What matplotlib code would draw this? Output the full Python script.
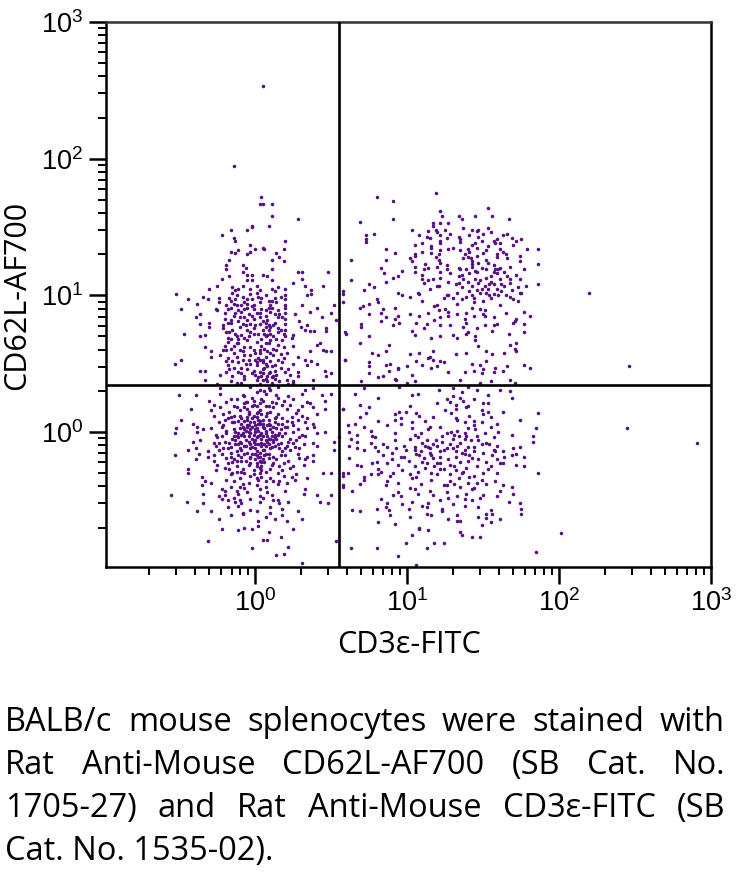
import numpy as np
import matplotlib
matplotlib.use('Agg')
import matplotlib.pyplot as plt
from matplotlib.ticker import LogLocator, LogFormatterMathtext, NullFormatter

plt.rcParams['font.family'] = ['Liberation Sans', 'DejaVu Sans']
plt.rcParams['mathtext.default'] = 'regular'

# log10 (CD3e, CD62L) per gate
upper_left = [
    (.05,2.53),(-.14,1.95),(.04,1.72),(.03,1.67),(.05,1.67),(.11,1.67),(.11,1.58),(.28,1.56),(.09,1.51),(-.02,1.51),(-.02,1.50),
    (-.05,1.48),(-.16,1.48),(-.22,1.44),(-.14,1.42),(-.13,1.40),(.20,1.40),(-.03,1.37),(.05,1.35),(.06,1.34),(.0,1.34),(-.03,1.32),
    (-.05,1.30),(-.16,1.32),(-.13,1.31),(-.11,1.33),(.19,1.34),(.14,1.31),(.16,1.28),(.19,1.25),(.11,1.26),(-.17,1.26),(-.19,1.22),
    (-.19,1.19),(-.17,1.14),(-.08,1.22),(-.06,1.20),(-.08,1.17),(-.05,1.15),(-.02,1.15),(-.05,1.11),(-.02,1.11),(.05,1.15),(.08,1.14),
    (.11,1.19),(.11,1.11),(.28,1.17),(.31,1.17),(.31,1.12),(.48,1.17),(-.22,1.12),(.25,1.09),(.33,1.07),(.45,1.07),(-.25,1.07),(-.30,1.05),
    (-.15,1.06),(-.13,1.04),(-.11,1.05),(-.08,1.07),(-.03,1.05),(.01,1.07),(.03,1.04),(.11,1.05),(.15,1.06),(.20,1.05),(.37,1.04),
    (-.52,1.01),(-.15,1.02),(-.12,1.00),(-.03,1.01),(.01,1.02),(.07,1.00),(.13,1.03),(.20,1.00),(.34,1.00),(.37,1.01),
    (-.44,.97),(-.34,.99),(-.31,.97),(-.24,.98),(-.16,.96),(-.05,.97),(.04,.98),(.09,.96),(.13,.98),(.20,.97),
    (-.38,.94),(-.24,.95),(-.19,.93),(-.14,.94),(-.09,.93),(-.05,.94),(-.01,.93),(.03,.95),(.10,.93),(.14,.95),(.20,.93),(.58,.95),(.52,.93),
    (-.49,.90),(-.26,.90),(-.25,.89),(-.16,.91),(-.11,.89),(-.05,.91),(-.01,.90),(.07,.89),(.11,.91),(.15,.89),(.20,.91),(.31,.93),(.41,.91),
    (-.36,.86),(-.20,.87),(-.14,.85),(-.09,.88),(-.04,.86),(.01,.87),(.07,.85),(.10,.88),(.16,.86),(.20,.87),(.26,.86),(.36,.88),(.50,.87),
    (-.39,.84),(-.20,.83),(-.16,.82),(-.10,.84),(-.05,.82),(-.01,.83),(.03,.84),(.08,.82),(.15,.84),(.20,.83),(.44,.84),(.53,.82),
    (-.36,.79),(-.30,.80),(-.21,.78),(-.16,.80),(-.11,.81),(-.03,.79),(.07,.80),(.09,.78),(.13,.80),(.20,.79),(.29,.81),(.34,.78),
    (-.30,.77),(-.21,.76),(-.15,.75),(-.10,.77),(-.05,.75),(-.01,.76),(.07,.77),(.09,.75),(.15,.76),(.20,.75),(.30,.77),(.33,.75),(.47,.76),
    (-.47,.72),(-.33,.71),(-.19,.73),(-.13,.72),(-.09,.71),(-.03,.73),(.02,.72),(.08,.71),(.15,.73),(.19,.72),(.25,.71),(.36,.74),(.39,.74),(.47,.74),(.60,.72),
    (-.36,.70),(-.18,.69),(-.12,.70),(-.07,.69),(.07,.70),(.14,.68),(.20,.70),(.24,.69),
    (-.18,.66),(-.11,.65),(-.05,.67),(.01,.66),(.09,.65),(.18,.67),(.43,.65),
    (-.33,.62),(-.20,.63),(-.16,.61),(-.03,.62),(.04,.63),(.12,.61),(.19,.62),(.25,.63),(.41,.64),
    (-.29,.59),(-.19,.60),(-.14,.58),(-.08,.59),(-.01,.60),(.03,.58),(.08,.59),(.14,.60),(.21,.58),(.45,.60),(.47,.59),(.50,.59),(.36,.59),
    (-.29,.55),(-.23,.56),(-.18,.54),(-.12,.55),(-.03,.56),(.02,.54),(.07,.55),(.12,.56),(.19,.54),(.28,.55),
    (-.49,.53),(-.19,.52),(-.08,.53),(.01,.51),(.05,.53),(.10,.52),(.15,.53),(.33,.53),(.37,.52),(.59,.53),
    (-.53,.50),(-.18,.49),(-.11,.51),(-.03,.50),(.01,.49),(.07,.50),(.13,.49),(.18,.51),(.25,.50),(.34,.49),(.41,.50),
    (-.36,.45),(-.33,.45),(-.17,.46),(-.11,.44),(-.01,.45),(.05,.46),(.10,.44),(.13,.45),(.22,.46),(.28,.44),(.46,.45),(.50,.43),
    (-.23,.42),(-.15,.41),(-.09,.43),(.0,.42),(.04,.41),(.09,.43),(.12,.41),(.23,.42),(.28,.41),(.47,.41),
    (-.33,.38),(-.16,.37),(-.07,.39),(.01,.38),(.08,.37),(.13,.39),(.21,.38),(.25,.37),(.38,.38),
    (-.25,.35),(-.12,.36),(-.03,.34),(.03,.35),(.11,.36),(.22,.35),(.25,.36),
    # tight clumps in the middle of the population
    (-.12,.93),(-.07,.95),(-.02,.92),(.04,.90),(.09,.91),(-.07,.84),(-.02,.85),(.03,.79),(.06,.72),(.05,.75),
    (-.06,.78),(-.01,.72),(.10,.77),(.10,.72),(.12,.70),(.07,.65),(.06,.61),(.03,.60),(.0,.58),(.03,.53),
    (.0,.53),(.05,.51),(.08,.48),(.06,.47),(.03,.44),(.05,.43),(.08,.41),(.11,.40),(.14,.42),(.07,.39),
    (.02,.40),(.05,.38),(-.02,.43),(-.05,.46),(-.09,.47),(-.04,.53),(-.07,.56),(-.10,.60),(-.12,.65),(-.16,.68),
    (-.17,.98),(-.13,.97),(-.08,.99),(-.02,.97),(.02,.99),(.11,.96),(.17,.99),(-.18,.90),(-.13,.87),(-.07,.90),
    (.03,.87),(.13,.86),(.18,.84),(-.18,.80),(-.08,.79),(.0,.78),(.05,.81),(.12,.78),(.17,.75),(-.17,.73),
    (-.11,.68),(-.04,.70),(.04,.68),(.10,.67),(.15,.64),(-.21,.60),(-.14,.63),(-.07,.62),(.10,.58),(.17,.57),
    (-.15,.52),(-.06,.50),(.11,.48),(.17,.47),(.20,.44),(-.14,.47),(-.19,.44),(-.07,.41),(.16,.37),(-.09,.36),
]

lower_left = [
    (-.23,.32),(-.03,.33),(.03,.31),(.09,.32),(.15,.33),(.33,.31),(.38,.32),
    (-.50,.27),(-.39,.27),(-.23,.28),(-.07,.26),(.07,.28),(.14,.27),(.22,.26),(.31,.28),(.44,.27),(.50,.28),
    (-.30,.23),(-.16,.24),(-.05,.22),(-.01,.23),(.04,.24),(.11,.22),(.19,.23),(.25,.24),(.34,.22),(.46,.23),
    (-.27,.20),(-.14,.19),(-.07,.21),(-.01,.20),(.07,.19),(.14,.21),(.23,.20),(.31,.19),(.36,.21),
    (-.42,.17),(-.29,.16),(-.12,.18),(-.05,.17),(.03,.16),(.12,.18),(.21,.17),(.28,.16),(.38,.18),(.46,.17),(.58,.17),
    (-.27,.12),(-.21,.13),(-.16,.11),(-.10,.12),(-.04,.13),(.01,.11),(.07,.12),(.15,.13),(.24,.11),(.31,.12),(.41,.13),
    (-.49,.09),(-.18,.10),(-.11,.08),(-.05,.09),(-.02,.10),(.03,.08),(.09,.09),(.13,.10),(.21,.08),(.28,.09),(.34,.10),
    (-.41,.06),(-.21,.05),(-.15,.07),(-.09,.06),(-.04,.05),(-.01,.07),(.02,.06),(.08,.05),(.13,.07),(.18,.06),(.25,.05),(.33,.07),(.38,.06),
    (-.52,.03),(-.38,.04),(-.34,.02),(-.29,.03),(-.22,.04),(-.14,.02),(-.10,.03),(-.05,.04),(-.03,.02),(.01,.03),(.05,.04),(.10,.02),(.14,.03),(.21,.04),(.28,.02),(.34,.03),(.39,.04),
    (-.53,-.01),(-.38,.0),(-.26,-.02),(-.19,-.01),(-.13,.0),(-.09,-.02),(-.03,-.01),(.0,.0),(.03,-.02),(.07,-.01),(.11,.0),(.15,-.02),(.20,-.01),(.25,.0),(.31,-.02),(.41,-.01),(.46,.0),
    (-.25,-.04),(-.22,-.03),(-.15,-.05),(-.11,-.04),(-.07,-.03),(-.02,-.05),(.01,-.04),(.05,-.03),(.09,-.05),(.13,-.04),(.18,-.03),(.23,-.05),(.29,-.04),(.33,-.03),(.55,-.04),
    (-.41,-.07),(-.36,-.06),(-.27,-.08),(-.20,-.07),(-.13,-.06),(-.09,-.08),(-.04,-.07),(.0,-.06),(.04,-.08),(.08,-.07),(.12,-.06),(.17,-.08),(.22,-.07),(.27,-.06),(.38,-.08),(.52,-.07),
    (-.26,-.10),(-.16,-.11),(-.11,-.09),(-.07,-.10),(-.02,-.11),(.02,-.09),(.07,-.10),(.11,-.11),(.15,-.09),(.21,-.10),(.26,-.11),(.32,-.09),(.41,-.10),
    (-.44,-.13),(-.39,-.12),(-.31,-.14),(-.24,-.13),(-.18,-.12),(-.12,-.14),(-.09,-.13),(-.03,-.12),(.01,-.14),(.05,-.13),(.10,-.12),(.18,-.14),(.23,-.13),(.29,-.12),(.52,-.13),
    (-.53,-.17),(-.37,-.16),(-.31,-.18),(-.27,-.17),(-.22,-.16),(-.16,-.18),(-.11,-.17),(-.07,-.16),(-.03,-.18),(.01,-.17),(.07,-.16),(.12,-.18),(.20,-.17),(.28,-.16),(.34,-.18),(.38,-.17),
    (-.39,-.20),(-.27,-.21),(-.19,-.19),(-.14,-.20),(-.09,-.21),(-.03,-.19),(.0,-.20),(.03,-.21),(.09,-.19),(.14,-.20),(.22,-.21),(.29,-.19),(.33,-.20),(.38,-.21),
    (-.25,-.24),(-.18,-.23),(-.12,-.25),(-.04,-.24),(.01,-.23),(.04,-.25),(.11,-.24),(.19,-.23),(.25,-.25),(.32,-.24),
    (-.44,-.27),(-.26,-.28),(-.20,-.26),(-.08,-.27),(-.01,-.28),(.03,-.26),(.10,-.27),(.18,-.28),(.23,-.26),
    (-.44,-.30),(-.16,-.31),(-.12,-.29),(-.07,-.30),(-.01,-.31),(.07,-.29),(.15,-.30),(.27,-.31),(.45,-.30),(.50,-.30),(.58,-.30),
    (-.35,-.33),(-.10,-.34),(-.03,-.32),(.04,-.33),(.10,-.34),(.19,-.32),(.24,-.33),(.34,-.34),
    (-.33,-.36),(-.29,-.37),(-.19,-.35),(-.14,-.36),(-.04,-.37),(.02,-.35),(.12,-.36),(.21,-.37),(.26,-.35),
    (-.35,-.39),(-.16,-.40),(-.08,-.38),(.01,-.39),(.07,-.40),(.15,-.38),(.58,-.39),
    (-.22,-.42),(-.20,-.43),(-.07,-.41),(.03,-.42),(.20,-.43),(.33,-.42),
    (-.55,-.46),(-.34,-.45),(-.24,-.47),(-.20,-.46),(-.11,-.45),(.03,-.47),(.11,-.46),(.32,-.45),(.41,-.46),(.50,-.46),
    (-.22,-.49),(-.14,-.48),(-.10,-.50),(-.03,-.49),(.05,-.48),(.15,-.50),
    (-.45,-.51),(-.34,-.52),(-.18,-.50),(-.13,-.51),(-.09,-.52),(.03,-.51),(.12,-.50),(.16,-.52),(.43,-.51),(.48,-.52),(.22,-.51),
    (-.18,-.55),(-.11,-.54),(.10,-.55),(.18,-.56),
    (-.38,-.58),(-.29,-.58),(-.08,-.59),(-.03,-.57),(.01,-.58),(.10,-.59),(.28,-.58),
    (-.16,-.61),(-.08,-.60),(.07,-.62),(.18,-.61),
    (-.24,-.64),(.02,-.65),(.13,-.64),(.21,-.65),(.31,-.64),
    (-.22,-.71),(-.11,-.72),(-.07,-.70),(-.02,-.71),(.02,-.69),(.25,-.71),(.09,-.73),
    (.17,-.77),(.05,-.79),(.08,-.79),(-.31,-.80),(.53,-.80),(-.02,-.85),(.22,-.84),(.14,-.90),(.19,-.89),(.31,-.96),
    # packed core of the population
    (-.08,.04),(-.06,.01),(-.04,-.03),(-.01,-.07),(.02,.01),(.04,-.01),(.06,.03),(.08,-.03),(.10,.05),(.12,-.07),
    (-.12,-.03),(-.06,-.10),(-.02,.04),(.0,-.12),(.03,-.15),(.06,-.13),(.09,-.16),(-.07,.08),(-.01,.12),(.05,.09),
    (-.10,-.12),(-.05,-.15),(.0,.02),(.03,.06),(.07,.01),(.11,-.03),(.14,-.05),(.02,-.18),(.05,-.20),(.06,-.22),
    (-.03,-.23),(.04,-.28),(-.04,.15),(.02,.15),(.08,.14),(-.10,.16),(.14,.11),(.01,.19),(-.06,.22),(.05,.23),
    (-.08,.27),(.01,.29),(.06,.30),(.10,.31),(-.02,.25),(.17,.02),(.20,.04),(-.14,.07),(-.17,-.08),(-.02,-.16),
    (-.07,.02),(-.05,.05),(-.03,.07),(.0,.05),(.02,.09),(.05,.06),(.09,.06),(.12,.04),(.15,.06),(.16,-.01),
    (.13,-.02),(.10,-.05),(.07,-.06),(.04,-.05),(.02,-.03),(-.01,-.02),(-.04,.0),(-.08,-.01),(-.11,-.01),(-.14,-.03),
    (-.13,-.09),(-.10,-.07),(-.06,-.06),(-.03,-.09),(.0,-.09),(.04,-.10),(.06,-.09),(.09,-.09),(.13,-.10),(.16,-.12),
    (.0,-.16),(.03,-.18),(.06,-.17),(.04,-.22),(.01,-.25),(.03,-.30),(-.06,-.21),(-.09,-.18),(-.12,-.21),(-.16,-.15),
    (-.14,.12),(-.09,.10),(-.05,.11),(.01,.14),(.04,.13),(.10,.15),(-.07,.18),(-.02,.19),(.03,.21),(.09,.19),
    (-.17,.15),(-.20,.09),(-.24,.07),(-.19,.01),(-.24,-.08),(-.21,-.12),(-.15,-.22),(.12,-.23),(.16,-.25),(.17,-.17),
    (.20,-.12),(.25,-.08),(.24,.07),(.18,.10),(.27,.14),(.18,.20),(.15,.25),(-.12,.24),(-.19,.22),(-.23,.18),
    (-.17,-.27),(-.09,-.29),(.01,-.34),(.07,-.36),(-.10,-.40),(-.12,-.43),(.08,-.44),(-.15,-.30),(.16,-.36),(-.05,-.44),
]

upper_right = [
    (1.19,1.75),(.80,1.72),(.91,1.69),(1.22,1.62),(1.53,1.64),(1.23,1.58),(1.34,1.58),(1.45,1.58),(1.56,1.58),(.91,1.56),(1.36,1.56),(1.67,1.56),(.69,1.54),
    (1.17,1.53),(1.22,1.53),(1.27,1.53),(1.17,1.51),(1.03,1.48),(1.19,1.48),(1.25,1.48),(1.37,1.49),(1.43,1.48),(1.47,1.48),(1.53,1.49),
    (1.14,1.47),(1.20,1.46),(1.46,1.47),(1.55,1.46),(.73,1.44),(.78,1.45),(1.08,1.44),(1.13,1.43),(1.22,1.44),(1.28,1.45),(1.34,1.43),(1.41,1.44),(1.50,1.45),(1.47,1.43),(1.63,1.44),(1.66,1.45),
    (.73,1.41),(1.15,1.42),(1.22,1.40),(1.35,1.41),(1.26,1.42),(1.57,1.40),(1.59,1.41),(1.69,1.42),(1.72,1.40),(1.75,1.41),(.73,1.39),(1.10,1.38),(1.35,1.39),(1.45,1.38),(1.49,1.40),(1.61,1.38),
    (1.05,1.37),(1.16,1.36),(1.22,1.38),(1.43,1.37),(1.53,1.36),(1.58,1.38),(1.70,1.37),
    (.86,1.34),(1.16,1.35),(1.22,1.33),(1.27,1.34),(1.30,1.35),(1.35,1.33),(1.40,1.34),(1.46,1.35),(1.52,1.33),(1.61,1.34),(1.79,1.34),(1.86,1.34),
    (.92,1.31),(1.05,1.30),(1.10,1.32),(1.16,1.31),(1.21,1.30),(1.41,1.32),(1.50,1.31),(1.59,1.30),(1.63,1.32),
    (1.05,1.29),(1.19,1.28),(1.38,1.30),(1.46,1.29),(1.59,1.28),(1.65,1.30),(1.74,1.29),
    (.63,1.26),(.86,1.26),(1.02,1.27),(1.03,1.25),(1.21,1.26),(1.37,1.27),(1.43,1.25),(1.52,1.26),(1.66,1.27),(1.74,1.25),
    (1.12,1.23),(1.22,1.24),(1.26,1.22),(1.43,1.23),(1.53,1.24),(1.57,1.22),(1.86,1.23),
    (.83,1.20),(1.05,1.21),(1.11,1.19),(1.14,1.20),(1.20,1.21),(1.26,1.19),(1.34,1.20),(1.43,1.21),(1.58,1.19),(1.61,1.20),(1.68,1.21),(1.77,1.19),
    (.97,1.18),(1.05,1.17),(1.35,1.19),(1.45,1.18),(1.57,1.17),(1.60,1.19),
    (.85,1.16),(1.10,1.15),(1.22,1.17),(1.28,1.16),(1.36,1.15),(1.46,1.17),(1.59,1.16),(1.72,1.15),
    (.91,1.13),(.94,1.14),(1.17,1.12),(1.22,1.13),(1.34,1.14),(1.45,1.12),(1.52,1.13),(1.66,1.14),(1.74,1.12),
    (.63,1.11),(.86,1.10),(1.10,1.12),(1.14,1.11),(1.27,1.10),(1.37,1.12),(1.48,1.11),(1.55,1.10),(1.61,1.12),
    (.75,1.08),(1.11,1.09),(1.21,1.07),(1.32,1.08),(1.34,1.09),(1.51,1.07),(1.57,1.08),(1.68,1.09),(1.78,1.07),(1.86,1.08),
    (.78,1.06),(1.15,1.05),(1.20,1.07),(1.36,1.06),(1.53,1.05),(1.64,1.07),(1.73,1.06),
    (.58,1.03),(.72,1.04),(.94,1.02),(1.41,1.03),(1.46,1.04),(1.52,1.02),(1.62,1.03),(1.69,1.04),(1.75,1.02),
    (.58,1.01),(.97,1.00),(1.07,1.02),(1.08,1.01),(1.26,1.00),(1.33,1.02),(1.57,1.01),(1.65,1.00),(1.74,1.02),
    (1.02,.99),(1.24,.98),(1.27,1.00),(1.39,.99),(1.44,.98),(1.54,1.00),(1.68,.99),
    (.80,.97),(1.10,.96),(1.30,.98),(1.36,.97),(1.50,.96),(1.55,.98),(1.70,.97),(1.73,.96),
    (.75,.94),(.81,.95),(1.20,.93),(1.33,.94),(1.44,.95),(1.61,.93),
    (.69,.91),(.71,.92),(.84,.90),(.92,.91),(1.18,.92),(1.25,.90),(1.43,.91),
    (1.21,.89),(1.27,.88),(1.48,.90),(1.51,.89),(1.77,.88),
    (.75,.86),(.83,.87),(.94,.85),(1.02,.86),(1.14,.87),(1.27,.85),(1.33,.86),(1.39,.87),(1.44,.85),(1.50,.86),(1.65,.87),(1.81,.85),
    (.86,.84),(.92,.83),(1.08,.85),(1.22,.84),(1.38,.83),(1.51,.85),(1.57,.84),(1.72,.83),
    (.83,.81),(.95,.80),(1.18,.82),(1.71,.81),
    (.70,.79),(.91,.78),(1.06,.80),(1.13,.79),(1.28,.78),(1.39,.80),(1.59,.79),(1.51,.78),(1.70,.80),(1.77,.79),
    (.70,.77),(1.11,.76),(1.22,.78),(1.37,.77),(1.46,.76),(1.57,.78),
    (.59,.73),(1.03,.74),(1.39,.72),(1.40,.73),(1.56,.74),(1.67,.72),(1.77,.73),
    (.75,.70),(1.05,.71),(1.16,.69),(1.22,.70),(1.30,.71),(1.33,.69),(1.45,.70),(1.45,.67),
    (.88,.64),(.69,.65),(1.47,.63),(1.68,.64),(1.72,.65),(1.71,.61),
    (.77,.58),(.86,.59),(1.02,.57),(1.08,.58),(1.17,.59),(1.32,.57),(1.39,.58),(1.52,.59),(1.56,.57),(1.64,.58),(1.72,.59),
    (.81,.56),(1.15,.55),(.59,.53),(1.14,.54),(1.22,.52),(1.17,.53),
    (.75,.51),(.89,.50),(1.06,.52),(1.24,.51),(1.43,.50),(1.52,.52),
    (.75,.48),(.86,.49),(.94,.47),(1.00,.48),(1.10,.49),(1.16,.47),(1.20,.48),(1.48,.49),(1.58,.47),(1.66,.48),(1.77,.49),(1.81,.47),
    (.88,.45),(.94,.46),(1.38,.44),(1.44,.45),(1.50,.46),(1.57,.44),(1.63,.45),
    (.75,.43),(1.03,.42),(1.27,.44),(1.49,.43),(.81,.40),(.84,.41),(.92,.39),
    (.70,.37),(.93,.38),(1.00,.36),(1.05,.37),(1.35,.38),(1.48,.36),(1.55,.37),(1.68,.38),(1.71,.36),
    (2.20,1.02),(2.46,.48),
    # clumps along the top of the gate
    (1.40,1.28),(1.42,1.27),(1.47,1.24),(1.49,1.20),(1.52,1.19),(1.55,1.14),(1.40,1.10),(1.43,1.07),(1.47,1.09),(1.49,1.05),
    (1.54,1.08),(1.59,1.05),(1.62,1.08),(1.41,1.16),(1.39,1.19),(1.64,1.17),(1.68,1.12),(1.43,1.00),(1.48,1.02),(1.60,1.00),
]

lower_right = [
    (.72,.32),(.95,.33),(1.21,.31),(1.30,.32),(1.40,.33),(1.46,.31),(1.61,.31),(1.68,.30),
    (.66,.28),(1.03,.27),(1.07,.28),(1.36,.29),(1.53,.27),(.81,.25),(1.26,.24),(1.30,.26),(1.35,.25),(1.44,.24),(1.69,.25),
    (1.28,.22),(1.37,.23),(1.50,.21),(.69,.20),(1.02,.19),(1.20,.21),(1.32,.20),(1.40,.19),(1.53,.21),
    (.58,.17),(.75,.18),(1.25,.16),(1.32,.17),(1.39,.18),(1.49,.16),(.99,.15),(1.06,.14),(1.53,.15),
    (.73,.14),(.92,.13),(.95,.15),(1.29,.14),(1.50,.13),(1.86,.14),(1.63,.15),
    (.69,.11),(.96,.10),(1.08,.12),(1.17,.11),(1.32,.10),(1.41,.12),(1.55,.11),
    (.81,.08),(.92,.09),(1.03,.07),(1.12,.08),(1.33,.09),(1.38,.07),(1.44,.08),(1.74,.09),(1.49,.07),
    (.61,.05),(.66,.06),(.72,.04),(.87,.05),(.96,.06),(1.22,.04),(1.44,.05),(1.59,.06),
    (1.03,.03),(1.14,.02),(1.15,.04),(1.40,.03),(1.45,.02),(1.55,.04),(1.85,.03),
    (.62,.00),(.76,.01),(1.09,-.01),(1.29,.0),(1.33,.01),(1.38,-.01),(1.60,.0),
    (.67,-.02),(.77,-.03),(.92,-.01),(1.05,-.02),(1.23,-.03),(1.26,-.01),(1.31,-.02),(1.39,-.03),(1.51,-.01),(1.69,-.02),(1.83,-.03),
    (.63,-.05),(.79,-.04),(.92,-.06),(1.02,-.05),(1.07,-.04),(1.19,-.06),(1.38,-.05),(1.57,-.04),
    (.67,-.07),(.76,-.08),(1.13,-.06),(1.23,-.07),(1.35,-.08),(1.47,-.06),(1.83,-.07),(1.52,-.08),
    (.62,-.10),(.79,-.11),(.84,-.09),(.98,-.10),(1.05,-.11),(1.17,-.09),(1.33,-.10),(1.40,-.11),(1.49,-.09),(1.59,-.10),(1.74,-.11),
    (.67,-.12),(.72,-.13),(.87,-.11),(.93,-.12),(1.05,-.13),(1.14,-.11),(1.26,-.12),(1.38,-.13),(1.44,-.11),(1.70,-.12),
    (.81,-.14),(.90,-.15),(.99,-.13),(1.09,-.14),(1.15,-.15),(1.24,-.13),(1.32,-.14),(1.50,-.15),(1.57,-.13),(1.63,-.14),
    (.84,-.17),(.98,-.18),(1.06,-.16),(1.16,-.17),(1.22,-.18),(1.38,-.16),(1.56,-.17),(1.77,-.18),(1.72,-.16),(1.69,-.17),
    (.62,-.19),(.90,-.20),(.96,-.18),(1.17,-.19),(1.27,-.20),(1.32,-.18),(1.43,-.19),(1.59,-.20),(1.64,-.18),
    (.80,-.22),(.87,-.23),(1.01,-.21),(1.10,-.22),(1.22,-.23),(1.40,-.21),(1.52,-.22),(1.61,-.23),
    (.67,-.24),(.70,-.25),(.77,-.23),(.94,-.24),(1.05,-.25),(1.20,-.23),(1.28,-.24),(1.46,-.25),(1.63,-.23),(1.72,-.24),(1.77,-.25),
    (.81,-.27),(.97,-.28),(1.12,-.26),(1.22,-.27),(1.32,-.28),(1.39,-.26),(1.53,-.27),
    (.61,-.30),(.76,-.31),(.83,-.29),(.91,-.30),(1.02,-.31),(1.07,-.29),(1.16,-.30),(1.28,-.31),(1.37,-.29),(1.59,-.30),(1.86,-.30),
    (.58,-.32),(.72,-.33),(.81,-.31),(.89,-.32),(1.06,-.33),(1.20,-.31),(1.44,-.32),
    (.72,-.35),(.87,-.36),(1.03,-.34),(1.16,-.35),(1.28,-.36),(1.34,-.34),(1.49,-.35),(1.58,-.36),
    (.69,-.38),(.86,-.39),(.94,-.37),(1.09,-.38),(1.24,-.39),(1.40,-.37),(1.52,-.38),
    (.58,-.40),(1.02,-.41),(1.26,-.39),(1.35,-.40),(1.44,-.41),(1.63,-.39),(1.69,-.40),
    (.64,-.43),(.94,-.44),(1.05,-.42),(1.15,-.43),(1.26,-.44),(1.43,-.42),(1.61,-.43),
    (.91,-.46),(.96,-.47),(1.07,-.45),(1.17,-.46),(1.33,-.47),(1.39,-.45),(1.50,-.46),(1.59,-.47),(1.70,-.45),
    (.83,-.49),(1.22,-.50),(1.27,-.48),(1.38,-.49),(1.43,-.50),(1.48,-.48),
    (.87,-.52),(.97,-.53),(1.03,-.51),(1.14,-.52),(1.30,-.53),(1.67,-.51),(1.74,-.52),
    (.86,-.55),(1.01,-.56),(1.10,-.54),(1.13,-.55),(1.23,-.56),(1.38,-.54),(1.47,-.55),(1.75,-.56),
    (.64,-.57),(.69,-.58),(.80,-.56),(.88,-.57),(1.23,-.58),(1.55,-.57),(1.75,-.60),(1.52,-.60),
    (.89,-.61),(1.02,-.62),(1.13,-.60),(1.16,-.61),(1.47,-.62),(1.56,-.60),(1.33,-.61),
    (1.27,-.64),(1.33,-.65),(1.52,-.63),(1.61,-.64),(.81,-.66),(.92,-.67),(1.35,-.65),(1.55,-.66),(1.49,-.68),
    (1.08,-.70),(1.08,-.71),(1.14,-.72),(1.35,-.73),(1.03,-.75),(1.36,-.75),(1.43,-.77),(1.48,-.77),
    (.99,-.81),(1.18,-.81),(1.24,-.81),(.63,-.85),(.80,-.85),(1.13,-.85),(1.85,-.88),(.94,-.91),(1.06,-.97),
    (2.45,.03),(2.91,-.08),(2.01,-.74),
    # clumps in the centre of the gate
    (1.10,-.08),(1.12,-.10),(1.15,-.12),(1.20,-.10),(1.22,-.14),(1.08,-.17),(1.11,-.19),(1.13,-.23),(1.18,-.25),(1.24,-.27),
    (1.28,-.09),(1.30,-.12),(1.36,-.15),(1.41,-.17),(1.44,-.14),(1.47,-.20),(1.35,-.22),(1.31,-.25),(1.36,-.30),(1.41,-.33),
    (1.30,-.05),(1.34,-.03),(1.42,-.06),(1.46,-.03),(1.54,-.09),(1.58,-.14),(1.55,-.25),(1.50,-.30),(1.46,-.37),(1.31,-.38),
]

x_gate = 3.57
y_gate = 2.21

x_label = 'CD3ε-FITC'
y_label = 'CD62L-AF700'
caption_lines = [
    'BALB/c mouse splenocytes were stained with',
    'Rat Anti-Mouse CD62L-AF700 (SB Cat. No.',
    '1705-27) and Rat Anti-Mouse CD3ε-FITC (SB',
]
caption_last = 'Cat. No. 1535-02).'

W, H = 738, 877
fig = plt.figure(figsize=(W / 100, H / 100), dpi=100)
ax = fig.add_axes([105.5 / W, 1 - 566.5 / H, 605.5 / W, 544.5 / H])

cells = np.array(upper_left + lower_left + upper_right + lower_right)
ax.scatter(10 ** cells[:, 0], 10 ** cells[:, 1], s=6.5, color='#560f86', linewidths=0, zorder=2)

ax.set_xscale('log')
ax.set_yscale('log')
ax.set_xlim(10 ** -.984, 1000)
ax.set_ylim(10 ** -.984, 1000)

ax.axvline(x_gate, color='black', lw=1.9, zorder=3)
ax.axhline(y_gate, color='black', lw=1.9, zorder=3)

for s in ax.spines.values():
    s.set_linewidth(1.8)
ax.spines['top'].set_color('#333333')

for axis in (ax.xaxis, ax.yaxis):
    axis.set_major_locator(LogLocator(base=10, numticks=8))
    axis.set_minor_locator(LogLocator(base=10, subs=range(2, 10), numticks=8))
    axis.set_major_formatter(LogFormatterMathtext())
    axis.set_minor_formatter(NullFormatter())
ax.tick_params(which='major', length=12, width=1.8, labelsize=19.5, pad=4)
ax.tick_params(which='minor', length=5.5, width=1.4)

label_font = dict(fontsize=22, family=['Open Sans', 'DejaVu Sans'], ha='center', va='center')
fig.text(409 / W, 1 - 645 / H, x_label, **label_font)
fig.text(17 / W, 1 - 295 / H, y_label, rotation=90, **label_font)

# justified caption, word by word
cap_font = dict(fontsize=23.5, family=['Open Sans', 'DejaVu Sans'], va='baseline')
left, right = 5, 725
rend = fig.canvas.get_renderer()
baselines = [731, 774, 817, 860]
for line, base in zip(caption_lines, baselines):
    words = line.split()
    items = [fig.text(0, 1 - base / H, w, **cap_font) for w in words]
    widths = [t.get_window_extent(rend).width for t in items]
    gap = (right - left - sum(widths)) / (len(words) - 1)
    xpos = left
    for t, w in zip(items, widths):
        t.set_x(xpos / W)
        xpos += w + gap
fig.text(left / W, 1 - baselines[3] / H, caption_last, **cap_font)

fig.savefig('out.png', dpi=100)
